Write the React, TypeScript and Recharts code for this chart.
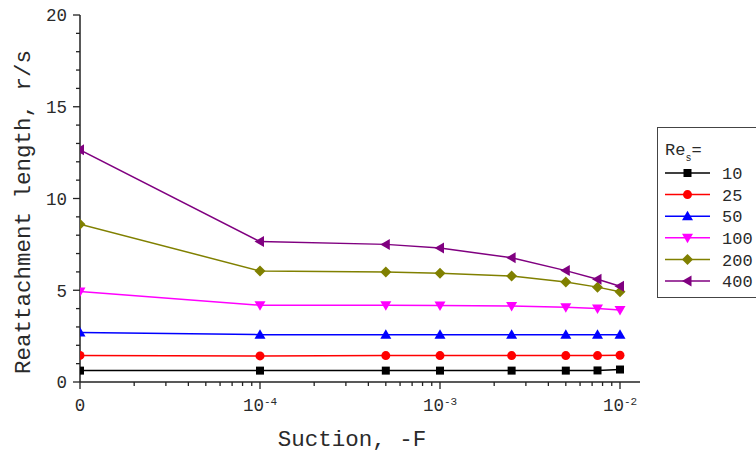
import React from 'react';
import { LineChart, Line, XAxis, YAxis, Legend, Label } from 'recharts';

const suction = [0, 1e-4, 5e-4, 1e-3, 2.5e-3, 5e-3, 7.5e-3, 1e-2];
const re10 = [0.62, 0.62, 0.62, 0.62, 0.62, 0.62, 0.63, 0.68];
const re25 = [1.45, 1.42, 1.44, 1.44, 1.44, 1.44, 1.44, 1.46];
const re50 = [2.7, 2.58, 2.58, 2.58, 2.58, 2.58, 2.58, 2.58];
const re100 = [4.93, 4.18, 4.18, 4.17, 4.14, 4.08, 4.0, 3.93];
const re200 = [8.6, 6.05, 6.0, 5.93, 5.77, 5.45, 5.17, 4.92];
const re400 = [12.65, 7.65, 7.5, 7.3, 6.77, 6.07, 5.6, 5.22];

const seriesNames = ['10', '25', '50', '100', '200', '400'];
const seriesValues = [re10, re25, re50, re100, re200, re400];
const seriesColors = ['#000000', '#ff0000', '#0000ff', '#ff00ff', '#808000', '#800080'];
const seriesShapes = ['square', 'circle', 'up', 'down', 'diamond', 'left'];

const xMajorTicks = [-5, -4, -3, -2];
const xTickBases = ['0', '10', '10', '10'];
const xTickExps = ['', '-4', '-3', '-2'];
const yMajorTicks = [0, 5, 10, 15, 20];
const yTickLabels = ['0', '5', '10', '15', '20'];

const FONT = '"Liberation Mono", "Courier New", monospace';
const TXT = '#2a2a2a';
const AX = '#222';

// map suction value to a log position (0 drawn one decade left of 1e-4)
const toPos = (f: number) => (f === 0 ? -5 : Math.log10(f));

const data = suction.map((f, i) => {
  const row: any = { pos: toPos(f) };
  seriesNames.forEach((n, s) => {
    row['r' + n] = seriesValues[s][i];
  });
  return row;
});

const xMinorTicks: number[] = [];
[-5, -4, -3].forEach((d) => {
  for (let k = 2; k <= 9; k++) xMinorTicks.push(d + Math.log10(k));
});
const xAllTicks = [...xMajorTicks, ...xMinorTicks].sort((a, b) => a - b);
const yAllTicks: number[] = [];
for (let v = 0; v <= 20; v++) yAllTicks.push(v);

function Marker({ shape, color, cx, cy }: any) {
  if (cx == null || cy == null) return null;
  switch (shape) {
    case 'square':
      return <rect x={cx - 4} y={cy - 4} width={8} height={8} fill={color} />;
    case 'circle':
      return <circle cx={cx} cy={cy} r={4.5} fill={color} />;
    case 'up':
      return <polygon points={`${cx},${cy - 5.5} ${cx - 5.5},${cy + 4} ${cx + 5.5},${cy + 4}`} fill={color} />;
    case 'down':
      return <polygon points={`${cx},${cy + 5.5} ${cx - 5.5},${cy - 4} ${cx + 5.5},${cy - 4}`} fill={color} />;
    case 'diamond':
      return <polygon points={`${cx},${cy - 5.5} ${cx + 5.5},${cy} ${cx},${cy + 5.5} ${cx - 5.5},${cy}`} fill={color} />;
    case 'left':
      return <polygon points={`${cx - 5.5},${cy} ${cx + 4},${cy - 5.5} ${cx + 4},${cy + 5.5}`} fill={color} />;
  }
  return null;
}

const makeDot = (shape: string, color: string) => (props: any) => (
  <g key={`dot-${shape}-${props.index}`}>
    <Marker shape={shape} color={color} cx={props.cx} cy={props.cy} />
  </g>
);

function XTick(props: any) {
  const { x, y, payload } = props;
  const v = payload.value;
  const mi = xMajorTicks.findIndex((m) => Math.abs(m - v) < 1e-9);
  const major = mi >= 0;
  return (
    <g>
      <line x1={x} x2={x} y1={y} y2={y + (major ? 7 : 4)} stroke={AX} strokeWidth={1.3} />
      {major && (
        <text x={x} y={y + 29} textAnchor="middle" fontFamily={FONT} fontSize={17.5} fill={TXT}>
          <tspan>{xTickBases[mi]}</tspan>
          {xTickExps[mi] && (
            <tspan dy={-6} fontSize={11}>
              {xTickExps[mi]}
            </tspan>
          )}
        </text>
      )}
    </g>
  );
}

function YTick(props: any) {
  const { x, y, payload } = props;
  const v = payload.value;
  const mi = yMajorTicks.indexOf(v);
  const major = mi >= 0;
  return (
    <g>
      <line x1={x} x2={x - (major ? 7 : 4)} y1={y} y2={y} stroke={AX} strokeWidth={1.3} />
      {major && (
        <text x={x - 13} y={y} dy="0.36em" textAnchor="end" fontFamily={FONT} fontSize={17.5} fill={TXT}>
          {yTickLabels[mi]}
        </text>
      )}
    </g>
  );
}

function LegendBox() {
  return (
    <div
      style={{
        width: 120,
        height: 171,
        border: '1.3px solid #444',
        background: '#fff',
        boxSizing: 'border-box',
      }}
    >
      <svg width={120} height={171} style={{ display: 'block' }}>
        <text x={7} y={27} fontFamily={FONT} fontSize={17} fill={TXT}>
          <tspan>Re</tspan>
          <tspan dy={6} fontSize={10}>s</tspan>
          <tspan dy={-6}>=</tspan>
        </text>
        {seriesNames.map((n, i) => {
          const cy = 45 + i * 21.6;
          return (
            <g key={n}>
              <line x1={7} x2={52} y1={cy} y2={cy} stroke={seriesColors[i]} strokeWidth={1.5} />
              <Marker shape={seriesShapes[i]} color={seriesColors[i]} cx={29.5} cy={cy} />
              <text x={64} y={cy} dy="0.36em" fontFamily={FONT} fontSize={17} fill={TXT}>
                {n}
              </text>
            </g>
          );
        })}
      </svg>
    </div>
  );
}

export default function App() {
  return (
    <div style={{ position: 'absolute', left: 0, top: 0, width: 756, height: 457, background: '#fff' }}>
      <LineChart width={756} height={457} data={data} margin={{ top: 15, right: 116, bottom: 0, left: 0 }}>
        <XAxis
          dataKey="pos"
          type="number"
          domain={[-5, -5 + 560 / 180]}
          allowDataOverflow
          ticks={xAllTicks}
          interval={0}
          tick={<XTick />}
          tickLine={false}
          tickSize={0}
          tickMargin={0}
          height={75}
          axisLine={{ stroke: AX, strokeWidth: 1.5 }}
        >
          <Label
            content={() => (
              <text x={352} y={446} textAnchor="middle" fontFamily={FONT} fontSize={22.5} fill={TXT}>
                Suction, -F
              </text>
            )}
          />
        </XAxis>
        <YAxis
          type="number"
          domain={[0, 20]}
          ticks={yAllTicks}
          interval={0}
          tick={<YTick />}
          tickLine={false}
          tickSize={0}
          tickMargin={0}
          width={80}
          axisLine={{ stroke: AX, strokeWidth: 1.5 }}
        >
          <Label
            content={() => (
              <text
                x={22}
                y={212}
                textAnchor="middle"
                dy="0.36em"
                transform="rotate(-90 22 212)"
                fontFamily={FONT}
                fontSize={22.5}
                fill={TXT}
              >
                Reattachment length, r/s
              </text>
            )}
          />
        </YAxis>
        <Legend
          layout="vertical"
          align="center"
          verticalAlign="middle"
          content={() => <LegendBox />}
          wrapperStyle={{ position: 'absolute', left: 657, top: 127, width: 120, height: 171 }}
        />
        {seriesNames.map((n, i) => (
          <Line
            key={n}
            dataKey={'r' + n}
            name={n}
            stroke={seriesColors[i]}
            strokeWidth={1.5}
            dot={makeDot(seriesShapes[i], seriesColors[i])}
            activeDot={false}
            isAnimationActive={false}
          />
        ))}
      </LineChart>
    </div>
  );
}
